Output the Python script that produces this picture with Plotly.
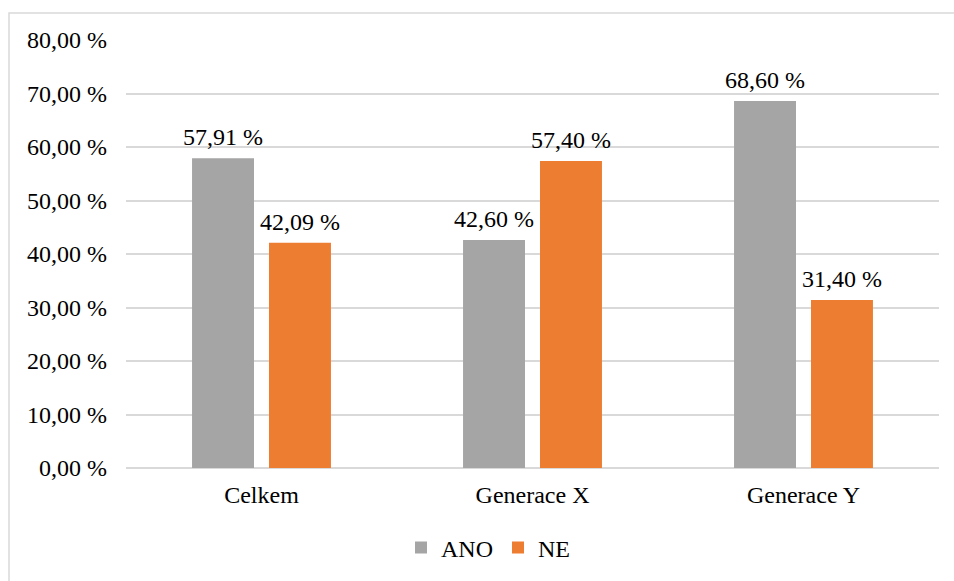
import plotly.graph_objects as go

categories = ["Celkem", "Generace X", "Generace Y"]
ano_values = [57.91, 42.60, 68.60]
ne_values = [42.09, 57.40, 31.40]
series_names = ["ANO", "NE"]
tick_vals = [0, 10, 20, 30, 40, 50, 60, 70, 80]
tick_text = ["0,00 %", "10,00 %", "20,00 %", "30,00 %", "40,00 %", "50,00 %", "60,00 %", "70,00 %", "80,00 %"]


def fmt(v):
    return f"{v:.2f}".replace(".", ",") + " %"


FONT = "Liberation Serif"
FS = 24
W, H = 954, 581
L, R, T, B = 126, 15, 40, 112
pw, ph = W - L - R, H - T - B
slot_px = 77

fig = go.Figure()
series = [(series_names[0], ano_values, "#A5A5A5", -1), (series_names[1], ne_values, "#ED7D31", 1)]
annotations = []
for name, vals, col, side in series:
    fig.add_trace(go.Bar(
        x=categories, y=vals, name=name, marker=dict(color=col, line=dict(width=0)),
        hoverinfo="x+y",
    ))
    for c, v in zip(categories, vals):
        annotations.append(dict(x=c, y=v, xref="x", yref="y", text=fmt(v), showarrow=False,
                                xshift=side * slot_px / 2, yshift=21, yanchor="middle", xanchor="center",
                                font=dict(family=FONT, size=FS, color="#000000")))

fig.update_layout(
    width=W, height=H,
    margin=dict(l=L, r=R, t=T, b=B),
    paper_bgcolor="white", plot_bgcolor="white",
    barmode="group", bargap=0.432, bargroupgap=0.195,
    font=dict(family=FONT, size=FS, color="#000000"),
    showlegend=True,
    legend=dict(orientation="h", x=(488 - L) / pw, xanchor="center", y=-(548 - (T + ph)) / ph, yanchor="middle",
                font=dict(family=FONT, size=FS), traceorder="normal"),
    xaxis=dict(showgrid=False, showline=False, ticks="", ticklabelstandoff=10,
               tickfont=dict(family=FONT, size=FS)),
    yaxis=dict(range=[0, 80], tickvals=tick_vals, ticktext=tick_text, showgrid=True,
               gridcolor="#D9D9D9", gridwidth=1.5, zeroline=True, zerolinecolor="#D9D9D9", zerolinewidth=1.5,
               showline=False, ticks="", ticklabelstandoff=18, tickfont=dict(family=FONT, size=FS)),
    annotations=annotations,
    shapes=[dict(type="rect", xref="paper", yref="paper",
                 x0=(9 - L) / pw, x1=(W + 20 - L) / pw,
                 y0=-(H + 20 - (T + ph)) / ph, y1=(T + ph - 13) / ph,
                 line=dict(color="#D9D9D9", width=1.5), fillcolor="rgba(0,0,0,0)", layer="below")],
)

fig.write_html("out.html", config={"displayModeBar": False},
               post_script="document.body.style.margin='0';document.body.style.overflow='hidden';")
